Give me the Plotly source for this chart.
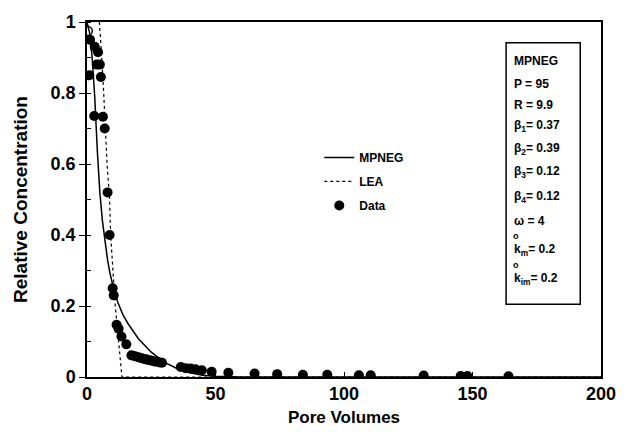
import plotly.graph_objects as go

# ---- data ----
data_x = [1.2, 3.0, 4.3, 3.8, 5.0, 0.9, 5.4, 2.8, 6.2, 6.9, 8.0, 8.8, 10.0, 10.4,
          11.5, 12.3, 13.4, 15.3, 17.3, 18.3, 19.3, 20.3, 21.3, 22.3, 23.3, 24.3, 25.3,
          26.3, 27.3, 28.3, 29.2, 36.5, 38.4, 40.3, 42.2, 44.7, 48.5, 55.0, 65.2, 74.0,
          84.0, 93.5, 105.8, 110.4, 131.0, 145.4, 148.0, 164.0]
data_y = [0.95, 0.93, 0.915, 0.88, 0.88, 0.85, 0.845, 0.735, 0.733, 0.70, 0.52,
          0.40, 0.25, 0.23, 0.147, 0.136, 0.114, 0.092, 0.061, 0.059, 0.057, 0.055, 0.053,
          0.051, 0.049, 0.047, 0.046, 0.044, 0.043, 0.041, 0.040, 0.028, 0.025, 0.024,
          0.022, 0.019, 0.015, 0.012, 0.010, 0.008, 0.006, 0.006, 0.005, 0.005, 0.004,
          0.003, 0.003, 0.002]
open_x = [0.3]
open_y = [0.975]

mpneg_x = [0, 1, 2, 3, 4, 5, 6, 7, 8, 9, 10, 12, 14, 16, 18, 20, 25, 30, 35, 40, 45, 50, 60, 200]
mpneg_y = [1.0, 0.97, 0.90, 0.79, 0.64, 0.52, 0.44, 0.38, 0.33, 0.29, 0.26, 0.21, 0.175,
           0.15, 0.128, 0.108, 0.07, 0.042, 0.024, 0.012, 0.005, 0.002, 0.0, 0.0]

lea_x = [4.8, 5.3, 6.5, 7.8, 8.8, 9.2, 11.0, 12.3, 13.6, 200]
lea_y = [1.0, 0.95, 0.8, 0.6, 0.5, 0.4, 0.2, 0.1, 0.0, 0.0]

param_lines = ["MPNEG", "P = 95", "R = 9.9", "β<sub>1</sub>= 0.37", "β<sub>2</sub>= 0.39",
               "β<sub>3</sub>= 0.12", "β<sub>4</sub>= 0.12", "ω = 4",
               "k<sub>m</sub>= 0.2", "k<sub>im</sub>= 0.2"]
param_ypx = [60, 83, 104, 126, 149, 173, 198, 222, 252, 281]

FONT = "Liberation Sans, Arial, Helvetica, sans-serif"

# plot area geometry (pixels)
L, R, T, B = 87, 21, 20, 55
W, H = 628, 436
pw, ph = W - L - R, H - T - B

fig = go.Figure()
fig.add_trace(go.Scatter(x=mpneg_x, y=mpneg_y, mode="lines", name="MPNEG",
                         legendgroup="a",
                         line=dict(color="black", width=1.5)))
fig.add_trace(go.Scatter(x=lea_x, y=lea_y, mode="lines", name="LEA",
                         legendgroup="b",
                         line=dict(color="black", width=1.2, dash="dot")))
fig.add_trace(go.Scatter(x=data_x, y=data_y, mode="markers", name="Data",
                         legendgroup="c",
                         marker=dict(color="black", size=10, symbol="circle")))
fig.add_trace(go.Scatter(x=open_x, y=open_y, mode="markers", showlegend=False,
                         marker=dict(color="black", size=9, symbol="circle-open",
                                     line=dict(color="black", width=1.5))))

def py(ypx):
    return (H - B - ypx) / ph

def px(xpx):
    return (xpx - L) / pw

anns = []
for txt, yp in zip(param_lines, param_ypx):
    anns.append(dict(text=txt, x=px(517), y=py(yp), xref="paper", yref="paper",
                     xanchor="left", yanchor="middle", showarrow=False,
                     font=dict(family=FONT, size=12, color="black", weight="bold")))
for yp in param_ypx[-2:]:
    anns.append(dict(text="o", x=px(521), y=py(yp - 14), xref="paper", yref="paper",
                     xanchor="center", yanchor="middle", showarrow=False,
                     font=dict(family=FONT, size=9, color="black", weight="bold")))

fig.update_layout(
    width=W, height=H,
    margin=dict(l=L, r=R, t=T, b=B),
    paper_bgcolor="white", plot_bgcolor="white",
    font=dict(family=FONT, color="black", weight="bold"),
    showlegend=True,
    legend=dict(x=px(322), y=py(143), xanchor="left", yanchor="top",
                bgcolor="rgba(0,0,0,0)", tracegroupgap=5,
                font=dict(family=FONT, size=12, color="black", weight="bold")),
    annotations=anns,
    shapes=[dict(type="rect", xref="paper", yref="paper",
                 x0=px(511), x1=px(586), y0=py(307), y1=py(41),
                 line=dict(color="black", width=1.5))],
)
fig.update_xaxes(range=[0, 200], tickvals=[0, 50, 100, 150, 200],
                 showgrid=False, zeroline=False,
                 showline=True, mirror=True, linecolor="black", linewidth=1.5,
                 ticks="inside", ticklen=5, tickcolor="black",
                 tickfont=dict(family=FONT, size=18, color="black", weight="bold"),
                 title=dict(text="Pore Volumes", standoff=8,
                            font=dict(family=FONT, size=17, color="black", weight="bold")))
fig.update_yaxes(range=[0, 1], tickvals=[0, 0.2, 0.4, 0.6, 0.8, 1],
                 ticktext=["0", "0.2", "0.4", "0.6", "0.8", "1"],
                 showgrid=False, zeroline=False,
                 showline=True, mirror=True, linecolor="black", linewidth=1.5,
                 ticks="outside", ticklen=6, tickcolor="black",
                 minor=dict(ticks="inside", ticklen=4, dtick=0.1, tickcolor="black", showgrid=False),
                 tickfont=dict(family=FONT, size=18, color="black", weight="bold"),
                 title=dict(text="Relative Concentration", standoff=18,
                            font=dict(family=FONT, size=19, color="black", weight="bold")))

fig.write_html("out.html")
